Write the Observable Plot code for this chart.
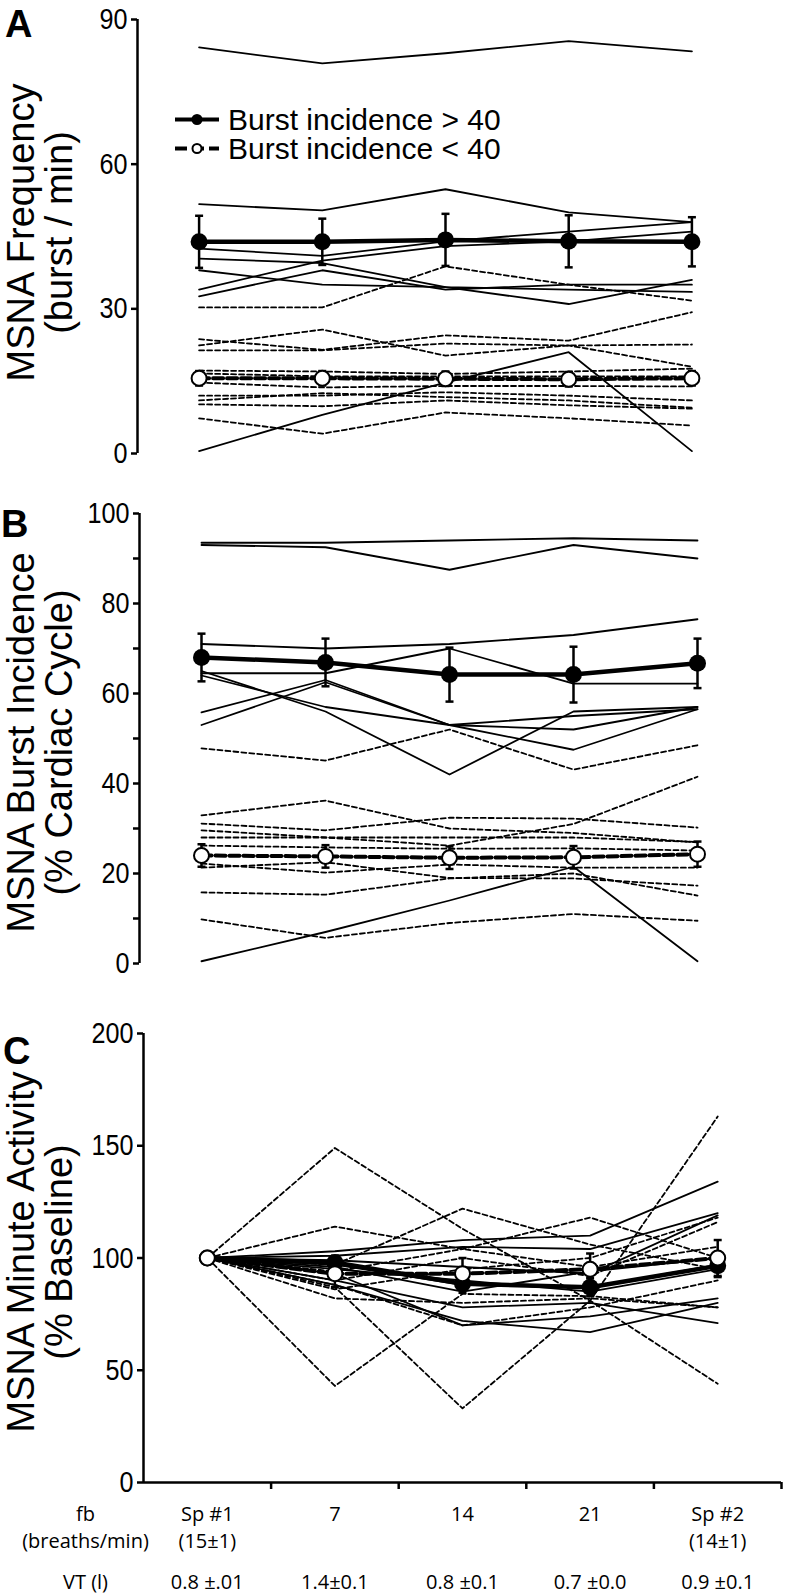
<!DOCTYPE html>
<html><head><meta charset="utf-8">
<script src="https://cdn.jsdelivr.net/npm/d3@7"></script>
<script src="https://cdn.jsdelivr.net/npm/@observablehq/plot@0.6"></script>
<style>
body{margin:0;background:#fff;}
#fig{position:relative;width:791px;height:1596px;background:#fff;overflow:hidden;}
.panel{position:absolute;left:0;}
.letter{position:absolute;font:bold 38px "Liberation Sans",Arial,sans-serif;line-height:1;}
#legend{position:absolute;left:175px;top:105px;font:30px "Liberation Sans",Arial,sans-serif;}
#legend .row{display:flex;align-items:center;height:29px;}
#legend span{line-height:29px;display:inline-block;height:29px;}
#legend svg{margin-right:9px;}
</style></head><body><div id="fig"></div><script>
// ---------- data ----------
const categories = ["Sp #1", "7", "14", "21", "Sp #2"];
const fbLabels = ["Sp #1\n(15±1)", "7", "14", "21", "Sp #2\n(14±1)"];
const vtLabels = ["0.8 ±.01", "1.4±0.1", "0.8 ±0.1", "0.7 ±0.0", "0.9 ±0.1"];
const legendLabels = ["Burst incidence > 40", "Burst incidence < 40"];

// Panel A: MSNA frequency (bursts/min)
const freqHigh = [
  [84.2, 80.9, 83.0, 85.5, 83.4],
  [51.7, 50.4, 54.8, 50.0, 48.0],
  [42.5, 41.0, 44.0, 46.0, 48.0],
  [40.4, 39.5, 34.5, 34.0, 33.5],
  [38.0, 35.0, 34.5, 31.0, 36.0],
  [34.0, 40.0, 43.0, 44.0, 46.0],
  [32.6, 38.0, 34.0, 35.0, 35.0],
  [0.5, 8.0, 14.7, 21.0, 0.5]
];
const freqLow = [
  [30.3, 30.3, 38.8, 35.0, 31.7],
  [23.7, 21.5, 24.5, 23.4, 29.3],
  [22.4, 25.7, 20.3, 22.4, 22.6],
  [21.4, 21.4, 22.8, 22.4, 18.0],
  [17.2, 17.0, 16.5, 17.0, 17.6],
  [16.6, 16.0, 16.0, 16.0, 16.0],
  [14.7, 13.7, 14.0, 14.0, 13.9],
  [12.0, 12.0, 12.7, 12.0, 11.0],
  [11.0, 12.5, 11.7, 11.0, 9.5],
  [10.2, 9.8, 11.0, 10.0, 9.3],
  [7.3, 4.1, 8.5, 7.3, 5.8]
];
const freqHighMean = [43.9, 43.9, 44.3, 44.0, 43.9];
const freqHighSE = [5.4, 4.8, 5.4, 5.4, 5.1];
const freqLowMean = [15.6, 15.6, 15.5, 15.4, 15.6];
const freqLowSE = [1.5, 1.5, 1.5, 1.5, 1.5];

// Panel B: burst incidence (% cardiac cycle)
const incHigh = [
  [93.5, 93.5, 94.0, 94.5, 94.0],
  [93.0, 92.5, 87.5, 93.0, 90.0],
  [71.0, 70.0, 71.0, 73.0, 76.5],
  [65.0, 56.0, 42.0, 56.0, 57.0],
  [64.5, 64.5, 70.0, 62.2, 62.2],
  [55.8, 63.0, 53.0, 52.0, 57.0],
  [53.0, 62.5, 53.0, 47.5, 56.5],
  [64.0, 57.0, 53.0, 55.0, 56.5],
  [0.5, 7.0, 14.0, 21.5, 0.5]
];
const incLow = [
  [47.8, 45.1, 52.0, 43.1, 48.5],
  [32.9, 36.2, 30.0, 29.0, 26.9],
  [31.1, 29.6, 32.4, 32.2, 30.2],
  [29.6, 28.0, 26.2, 31.0, 41.5],
  [28.0, 28.0, 28.0, 28.0, 27.0],
  [26.2, 25.8, 25.5, 25.6, 25.1],
  [22.2, 20.2, 22.0, 21.3, 21.3],
  [21.3, 22.5, 19.0, 18.9, 17.3],
  [15.8, 15.3, 18.9, 20.0, 15.1],
  [9.8, 5.7, 9.0, 11.0, 9.5]
];
const incHighMean = [68.0, 66.9, 64.2, 64.2, 66.7];
const incHighSE = [5.3, 5.3, 6.0, 6.2, 5.5];
const incLowMean = [24.0, 23.8, 23.5, 23.6, 24.3];
const incLowSE = [2.5, 2.5, 2.5, 2.5, 2.8];

// Panel C: minute activity (% baseline)
const actHigh = [
  [100, 103, 108, 110, 134],
  [100, 101, 105, 104, 120],
  [100, 99, 96, 93, 119],
  [100, 97, 88, 87, 97],
  [100, 95, 90, 85, 95],
  [100, 90, 78, 80, 71],
  [100, 93, 70, 74, 82],
  [100, 88, 72, 67, 80],
  [100, 96, 85, 94, 100]
];
const actLow = [
  [100, 149, 113, 81, 44],
  [100, 43, 84, 83, 78],
  [100, 87, 33, 81, 163],
  [100, 114, 104, 96, 105],
  [100, 97, 122, 106, 95],
  [100, 94, 104, 118, 100],
  [100, 90, 100, 92, 116],
  [100, 82, 80, 82, 78],
  [100, 86, 95, 100, 118],
  [100, 88, 70, 78, 90]
];
const actHighMean = [100, 98, 88.5, 87, 96.5];
const actHighSE = [0, 3, 4, 4, 5];
const actLowMean = [100, 93, 93, 95, 100];
const actLowSE = [0, 6, 7, 7, 8];

const yTicksA = [0, 30, 60, 90];
const yTicksB = d3.range(0, 101, 10);
const yTicksC = [0, 50, 100, 150, 200];

// ---------- helpers ----------
const HELV = "'Liberation Sans',Arial,Helvetica,sans-serif";
const SANS = "'Open Sans','Noto Sans',sans-serif";
const rows = series => series.flatMap((vals, s) => vals.map((v, i) => ({s, i, v})));
const stats = (mean, se) => mean.map((m, i) => ({i, m, lo: m - se[i], hi: m + se[i], se: se[i]}));
const X = d => d.i + 0.5;
const cap = {draw(ctx, size) { const w = Math.sqrt(size / Math.PI); ctx.moveTo(-w, 0); ctx.lineTo(w, 0); }};

// condense glyphs horizontally along the text direction (the original uses a narrow Helvetica)
function condense(svg, selector, k) {
  svg.querySelectorAll(selector).forEach(t => {
    const tr = t.getAttribute("transform") || "";
    t.setAttribute("transform", `${tr} scale(${k},1)`);
  });
}

function panel(o) {
  const hs = stats(o.highMean, o.highSE).filter(d => d.se > 0);
  const ls = stats(o.lowMean, o.lowSE).filter(d => d.se > 0);
  const marks = [
    Plot.line(rows(o.low), {x: X, y: "v", z: "s", stroke: "black", strokeWidth: 1.8, strokeDasharray: "5,3"}),
    Plot.line(rows(o.high), {x: X, y: "v", z: "s", stroke: "black", strokeWidth: 1.8}),
    // group means with SE bars
    Plot.ruleX(ls, {x: X, y1: "lo", y2: "hi", stroke: "black", strokeWidth: 2.5}),
    Plot.dot(ls.flatMap(d => [{i: d.i, y: d.lo}, {i: d.i, y: d.hi}]), {x: X, y: "y", symbol: cap, r: 4, stroke: "black", strokeWidth: 2.5, fill: "none"}),
    Plot.ruleX(hs, {x: X, y1: "lo", y2: "hi", stroke: "black", strokeWidth: 2.5}),
    Plot.dot(hs.flatMap(d => [{i: d.i, y: d.lo}, {i: d.i, y: d.hi}]), {x: X, y: "y", symbol: cap, r: 4, stroke: "black", strokeWidth: 2.5, fill: "none"}),
    Plot.line(stats(o.lowMean, o.lowSE), {x: X, y: "m", stroke: "black", strokeWidth: 4, strokeDasharray: "10,4"}),
    Plot.line(stats(o.highMean, o.highSE), {x: X, y: "m", stroke: "black", strokeWidth: 4.5}),
    Plot.dot(stats(o.highMean, o.highSE), {x: X, y: "m", r: 8.5, fill: "black", stroke: "none"}),
    Plot.dot(stats(o.lowMean, o.lowSE), {x: X, y: "m", r: 7.5, fill: "white", stroke: "black", strokeWidth: 2}),
    // y axis
    Plot.ruleX([0], {stroke: "black", strokeWidth: 2.5}),
    Plot.axisY({ticks: o.yTicks, tickSize: 6, tickPadding: 4, strokeWidth: 2.5, fontSize: 30, fontFamily: HELV,
      tickFormat: o.tickFormat || (d => d), label: null}),
    Plot.text([o.title], {ariaLabel: "y-axis title", frameAnchor: "left", textAnchor: "middle", rotate: -90, dx: -(o.ml - 40), dy: o.titleDy, lineAnchor: "middle",
      fontSize: 38, lineHeight: 1.0, fontFamily: HELV, fill: "black"})
  ];
  if (o.bottom) {
    marks.push(
      Plot.ruleY([0], {stroke: "black", strokeWidth: 2.5}),
      Plot.axisX({ticks: categories.map((d, i) => i + 1), tickSize: 7, strokeWidth: 2.5, tickFormat: () => "", label: null}),
      Plot.text(categories, {x: (d, i) => i + 0.5, text: (d, i) => fbLabels[i], frameAnchor: "bottom", textAnchor: "middle", dy: 20, lineAnchor: "top",
        fontSize: 20, lineHeight: 1.32, fontFamily: SANS, fill: "black"}),
      Plot.text(categories, {x: (d, i) => i + 0.5, text: (d, i) => vtLabels[i], frameAnchor: "bottom", textAnchor: "middle", dy: 92, lineAnchor: "top",
        fontSize: 20, fontFamily: SANS, fill: "black"}),
      Plot.text(["fb\n(breaths/min)"], {frameAnchor: "bottom-left", textAnchor: "middle", dx: -58, dy: 20, lineAnchor: "top", fontSize: 20, lineHeight: 1.32, fontFamily: SANS, fill: "black"}),
      Plot.text(["VT (l)"], {frameAnchor: "bottom-left", textAnchor: "middle", dx: -58, dy: 92, lineAnchor: "top", fontSize: 20, fontFamily: SANS, fill: "black"})
    );
  }
  const svg = Plot.plot({
    width: 791, height: o.height,
    marginTop: o.mt, marginBottom: o.mb, marginLeft: o.ml, marginRight: o.mr,
    x: {type: "linear", domain: [0, categories.length], axis: null},
    y: {domain: o.yDomain, axis: null},
    style: {fontFamily: HELV, fontSize: "30px", background: "white", color: "black", overflow: "visible"},
    marks
  });
  condense(svg, '[aria-label="y-axis tick label"] text', 0.84);
  condense(svg, '[aria-label="y-axis title"] text', 0.86);
  svg.classList.add("panel");
  svg.style.top = o.top + "px";
  return svg;
}

const fig = document.getElementById("fig");
fig.appendChild(panel({top: 980, height: 616, mt: 53, mb: 114, ml: 143, mr: 10, yDomain: [0, 200], yTicks: yTicksC,
  title: "MSNA Minute Activity\n(% Baseline)", titleDy: -6, bottom: true,
  high: actHigh, low: actLow, highMean: actHighMean, highSE: actHighSE, lowMean: actLowMean, lowSE: actLowSE}));
fig.appendChild(panel({top: 480, height: 500, mt: 33, mb: 17, ml: 139, mr: 32, yDomain: [0, 100], yTicks: yTicksB,
  tickFormat: d => d % 20 === 0 ? d : "",
  title: "MSNA Burst Incidence\n(% Cardiac Cycle)", titleDy: 4,
  high: incHigh, low: incLow, highMean: incHighMean, highSE: incHighSE, lowMean: incLowMean, lowSE: incLowSE}));
fig.appendChild(panel({top: 0, height: 480, mt: 19, mb: 27, ml: 137, mr: 38, yDomain: [0, 90], yTicks: yTicksA,
  title: "MSNA Frequency\n(burst / min)", titleDy: -4,
  high: freqHigh, low: freqLow, highMean: freqHighMean, highSE: freqHighSE, lowMean: freqLowMean, lowSE: freqLowSE}));

// panel letters
[["A", 5, 5], ["B", 505, 1], ["C", 1032, 3]].forEach(([t, top, left]) => {
  const d = document.createElement("div");
  d.className = "letter"; d.textContent = t; d.style.top = top + "px"; d.style.left = left + "px";
  fig.appendChild(d);
});

// legend
const leg = document.createElement("div");
leg.id = "legend";
leg.innerHTML = `
<div class="row"><svg width="44" height="29"><line x1="0" x2="44" y1="14.5" y2="14.5" stroke="black" stroke-width="4"/><circle cx="22" cy="14.5" r="5.5" fill="black"/></svg><span>${legendLabels[0].replace(">", "&gt;")}</span></div>
<div class="row"><svg width="44" height="29"><line x1="0" x2="44" y1="14.5" y2="14.5" stroke="black" stroke-width="4" stroke-dasharray="12,5"/><circle cx="22" cy="14.5" r="4.5" fill="white" stroke="black" stroke-width="2"/></svg><span>${legendLabels[1].replace("<", "&lt;")}</span></div>`;
fig.appendChild(leg);
</script></body></html>
